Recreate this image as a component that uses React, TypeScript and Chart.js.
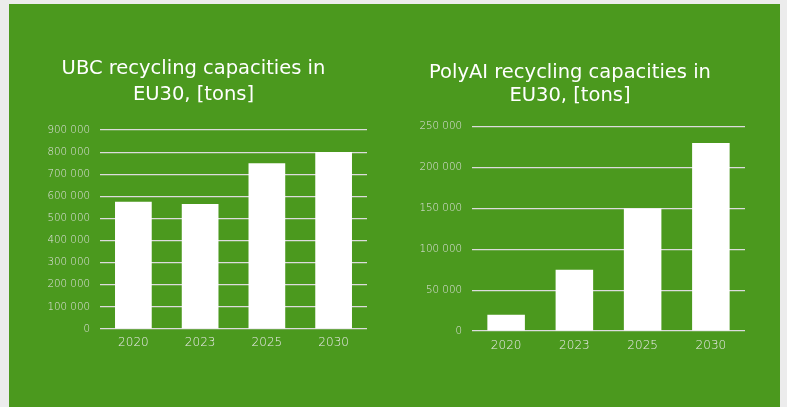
import React, { useEffect, useRef } from "react";
import { Chart, registerables } from "chart.js";

Chart.register(...registerables);

const categories = ["2020", "2023", "2025", "2030"];
const ubcValues = [575000, 565000, 750000, 800000];
const polyValues = [20000, 75000, 150000, 230000];
const ubcTitle = ["UBC recycling capacities in", "EU30, [tons]"];
const polyTitle = ["PolyAI recycling capacities in", "EU30, [tons]"];

const GREEN = "#4b991e";
const FONT = "'DejaVu Sans', sans-serif";
const fmt = (v: number) => String(v).replace(/\B(?=(\d{3})+(?!\d))/g, " ");

type Cfg = {
  values: number[];
  title: string[];
  max: number;
  step: number;
  yWidth: number;
  titleLH: number;
  titlePadTop: number;
  titlePadBottom: number;
  padRight: number;
  xPad: number;
};

function BarChart({ cfg, left, top, width, height }: { cfg: Cfg; left: number; top: number; width: number; height: number }) {
  const ref = useRef<HTMLCanvasElement>(null);
  useEffect(() => {
    if (!ref.current) return;
    const chart = new Chart(ref.current, {
      type: "bar",
      data: {
        labels: categories,
        datasets: [
          {
            data: cfg.values,
            backgroundColor: "#ffffff",
            borderWidth: 0,
            categoryPercentage: 0.55,
            barPercentage: 1,
          },
        ],
      },
      options: {
        animation: false,
        responsive: false,
        maintainAspectRatio: false,
        layout: { padding: { left: 0, right: cfg.padRight, top: 0, bottom: 0 } },
        plugins: {
          legend: { display: false },
          tooltip: { enabled: false },
          title: {
            display: true,
            text: cfg.title,
            color: "#ffffff",
            font: { family: FONT, size: 19.5, weight: "normal", lineHeight: cfg.titleLH },
            padding: { top: cfg.titlePadTop, bottom: cfg.titlePadBottom },
          },
        },
        scales: {
          x: {
            grid: { display: false, drawTicks: false },
            border: { display: false },
            ticks: {
              color: "#e8e8e8",
              padding: cfg.xPad,
              font: { family: FONT, size: 12, weight: 200 },
            },
            afterFit: (s: any) => {
              s.height = 30;
            },
          },
          y: {
            min: 0,
            max: cfg.max,
            grid: { color: "#dcdcdc", lineWidth: 1.2, drawTicks: false },
            border: { display: false },
            ticks: {
              stepSize: cfg.step,
              color: "#e2e2e2",
              padding: 10,
              font: { family: FONT, size: 10.3, weight: 200 },
              callback: (v: any) => fmt(Number(v)),
            },
            afterFit: (s: any) => {
              s.width = cfg.yWidth;
            },
          },
        },
      },
    });
    return () => chart.destroy();
  }, []);
  return (
    <canvas
      ref={ref}
      width={width}
      height={height}
      style={{ position: "absolute", left, top, width, height }}
    />
  );
}

export default function App() {
  return (
    <div style={{ position: "fixed", left: 0, top: 0, width: 787, height: 407, background: "#ececec", overflow: "hidden" }}>
      <div style={{ position: "absolute", left: 9, top: 4, width: 771, height: 403, background: GREEN }} />
      <BarChart
        cfg={{ values: ubcValues, title: ubcTitle, max: 900000, step: 100000, yWidth: 80, titleLH: 26 / 19.5, titlePadTop: 16, titlePadBottom: 22, padRight: 19, xPad: 7 }}
        left={20}
        top={40}
        width={366}
        height={319}
      />
      <BarChart
        cfg={{ values: polyValues, title: polyTitle, max: 250000, step: 50000, yWidth: 77, titleLH: 23.5 / 19.5, titlePadTop: 21, titlePadBottom: 18.75, padRight: 11, xPad: 8 }}
        left={395}
        top={40}
        width={361}
        height={321}
      />
    </div>
  );
}
